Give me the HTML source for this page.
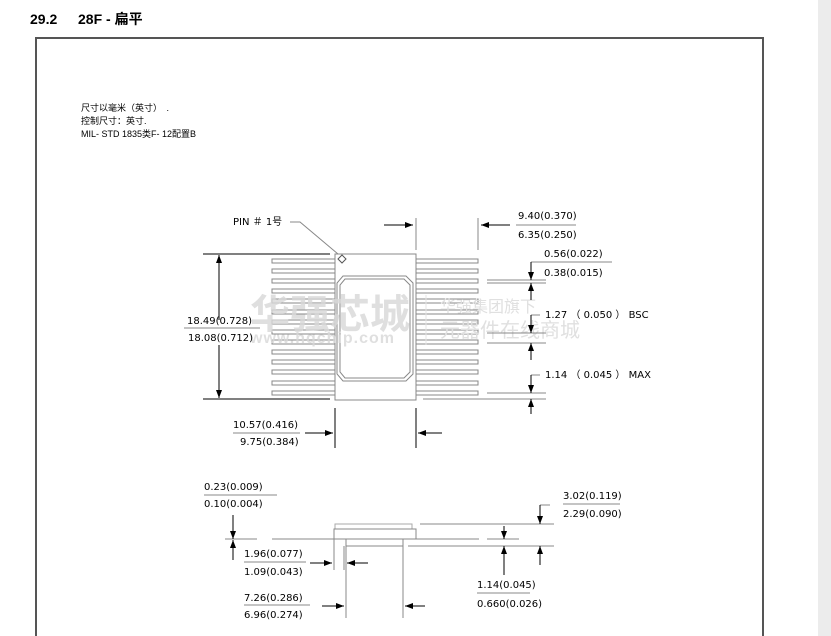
<!DOCTYPE html>
<html><head><meta charset="utf-8"><style>
body{margin:0;width:831px;height:636px;overflow:hidden;background:#fff;font-family:"Liberation Sans","Noto Sans CJK SC",sans-serif}
</style></head><body>
<svg width="831" height="636" xmlns="http://www.w3.org/2000/svg" style="position:absolute;left:0;top:0">
<defs>
<marker id="a" markerWidth="8" markerHeight="6" refX="8" refY="3" orient="auto" markerUnits="userSpaceOnUse"><path d="M0,0L8,3L0,6z" fill="#000"/></marker>
</defs>
<rect x="818" y="0" width="13" height="636" fill="#ececec"/>
<text x="30" y="24" font-size="14" font-weight="bold" fill="#000">29.2</text>
<text x="78" y="24" font-size="14" font-weight="bold" fill="#000">28F - 扁平</text>
<rect x="36" y="38" width="727" height="610" fill="none" stroke="#555" stroke-width="2"/>
<g font-size="9" fill="#000">
<text x="81" y="111">尺寸以毫米（英寸）　.</text>
<text x="81" y="124">控制尺寸：英寸.</text>
<text x="81" y="137">MIL- STD 1835类F- 12配置B</text>
</g>

<g stroke="#888" fill="none" stroke-width="1">
<g id="L">
<rect x="272" y="259" width="63" height="4"/><rect x="272" y="269" width="63" height="4"/><rect x="272" y="279" width="63" height="4"/><rect x="272" y="289" width="63" height="4"/><rect x="272" y="299" width="63" height="4"/><rect x="272" y="310" width="63" height="4"/><rect x="272" y="320" width="63" height="4"/><rect x="272" y="330" width="63" height="4"/><rect x="272" y="340" width="63" height="4"/><rect x="272" y="350" width="63" height="4"/><rect x="272" y="360" width="63" height="4"/><rect x="272" y="370" width="63" height="4"/><rect x="272" y="381" width="63" height="4"/><rect x="272" y="391" width="63" height="4"/>
</g>
<use href="#L" x="143"/>
<rect x="335" y="254" width="81" height="146" fill="#fff"/>
<path d="M343,276H406L413,283V374L406,381H343L337,374V283Z"/>
<path d="M345,279H404L410,285V372L404,378H345L340,372V285Z"/>
<path d="M342,255L346,259L342,263L338,259Z" stroke="#555"/>
</g>
<!-- watermark -->
<g fill="#d8d8d8" font-weight="bold" opacity="0.8">
<text x="250" y="328" font-size="40">华强芯城</text>
<text x="250" y="343" font-size="16" letter-spacing="1">www.hqchip.com</text>
</g>
<line x1="426" y1="295" x2="426" y2="345" stroke="#e4e4e4"/>
<g fill="#e0e0e0"><text x="440" y="312" font-size="16">华强集团旗下</text><text x="440" y="337" font-size="20">元器件在线商城</text></g>

<g stroke="#000" fill="none" stroke-width="1">
<path d="M290,222H300L338,254" stroke="#888"/>
<line x1="203" y1="254" x2="330" y2="254"/><line x1="203" y1="399" x2="330" y2="399"/>
<line x1="219" y1="320" x2="219" y2="255" marker-end="url(#a)"/><line x1="219" y1="345" x2="219" y2="398" marker-end="url(#a)"/>
<line x1="184" y1="328" x2="260" y2="328" stroke="#888"/>
<line x1="416" y1="218" x2="416" y2="250" stroke="#888"/><line x1="478" y1="218" x2="478" y2="250" stroke="#888"/>
<line x1="384" y1="225" x2="413" y2="225" marker-end="url(#a)"/><line x1="510" y1="225" x2="481" y2="225" marker-end="url(#a)"/>
<line x1="516" y1="225" x2="576" y2="225" stroke="#888"/>
<g stroke="#888"><line x1="487" y1="280" x2="546" y2="280"/><line x1="487" y1="283" x2="546" y2="283"/><line x1="487" y1="333" x2="546" y2="333"/><line x1="487" y1="343" x2="546" y2="343"/><line x1="487" y1="393" x2="546" y2="393"/><line x1="423" y1="399" x2="546" y2="399"/>
<line x1="531" y1="262" x2="612" y2="262"/><line x1="531" y1="315" x2="540" y2="315"/><line x1="531" y1="375" x2="540" y2="375"/></g>
<line x1="531" y1="262" x2="531" y2="280" marker-end="url(#a)"/><line x1="531" y1="300" x2="531" y2="283" marker-end="url(#a)"/>
<line x1="531" y1="315" x2="531" y2="333" marker-end="url(#a)"/><line x1="531" y1="360" x2="531" y2="343" marker-end="url(#a)"/>
<line x1="531" y1="375" x2="531" y2="393" marker-end="url(#a)"/><line x1="531" y1="414" x2="531" y2="399" marker-end="url(#a)"/>
<line x1="335" y1="408" x2="335" y2="448"/><line x1="416" y1="408" x2="416" y2="448"/>
<line x1="305" y1="433" x2="333" y2="433" marker-end="url(#a)"/><line x1="442" y1="433" x2="418" y2="433" marker-end="url(#a)"/>
<line x1="233" y1="433" x2="300" y2="433" stroke="#888"/>
<g stroke="#888">
<rect x="335" y="524" width="77" height="5" stroke="#aaa"/>
<rect x="334" y="529" width="82" height="10" fill="#fff"/>
<rect x="346" y="539" width="57" height="7"/>
<line x1="272" y1="539" x2="479" y2="539"/><line x1="225" y1="539" x2="257" y2="539"/>
<line x1="408" y1="546" x2="554" y2="546"/><line x1="420" y1="524" x2="554" y2="524"/>
<line x1="487" y1="539" x2="519" y2="539"/>
<line x1="334" y1="539" x2="334" y2="570"/><line x1="344" y1="546" x2="344" y2="570"/>
<line x1="346" y1="546" x2="346" y2="618"/><line x1="403" y1="546" x2="403" y2="618"/>
<line x1="204" y1="495" x2="277" y2="495"/><line x1="563" y1="504" x2="620" y2="504"/><line x1="540" y1="505" x2="550" y2="505"/>
<line x1="477" y1="593" x2="530" y2="593"/><line x1="244" y1="562" x2="306" y2="562"/><line x1="244" y1="605" x2="310" y2="605"/>
</g>
<line x1="233" y1="515" x2="233" y2="539" marker-end="url(#a)"/><line x1="233" y1="560" x2="233" y2="540" marker-end="url(#a)"/>
<line x1="540" y1="505" x2="540" y2="524" marker-end="url(#a)"/><line x1="540" y1="565" x2="540" y2="546" marker-end="url(#a)"/>
<line x1="504" y1="526" x2="504" y2="539" marker-end="url(#a)"/><line x1="504" y1="575" x2="504" y2="546" marker-end="url(#a)"/>
<line x1="310" y1="563" x2="332" y2="563" marker-end="url(#a)"/><line x1="368" y1="563" x2="347" y2="563" marker-end="url(#a)"/>
<line x1="322" y1="606" x2="344" y2="606" marker-end="url(#a)"/><line x1="425" y1="606" x2="405" y2="606" marker-end="url(#a)"/>
</g>
<g font-size="10" fill="#000" font-family="'DejaVu Sans','Noto Sans CJK SC',sans-serif">
<text x="233" y="225">PIN ＃ 1号</text>
<text x="187" y="324">18.49(0.728)</text><text x="188" y="341">18.08(0.712)</text>
<text x="518" y="219">9.40(0.370)</text><text x="518" y="238">6.35(0.250)</text>
<text x="544" y="257">0.56(0.022)</text><text x="544" y="276">0.38(0.015)</text>
<text x="545" y="318">1.27 （ 0.050 ） BSC</text>
<text x="545" y="378">1.14 （ 0.045 ） MAX</text>
<text x="233" y="428">10.57(0.416)</text><text x="240" y="445">9.75(0.384)</text>
<text x="204" y="490">0.23(0.009)</text><text x="204" y="507">0.10(0.004)</text>
<text x="563" y="499">3.02(0.119)</text><text x="563" y="517">2.29(0.090)</text>
<text x="244" y="557">1.96(0.077)</text><text x="244" y="575">1.09(0.043)</text>
<text x="477" y="588">1.14(0.045)</text><text x="477" y="607">0.660(0.026)</text>
<text x="244" y="601">7.26(0.286)</text><text x="244" y="618">6.96(0.274)</text>
</g>
</svg>
</body></html>
